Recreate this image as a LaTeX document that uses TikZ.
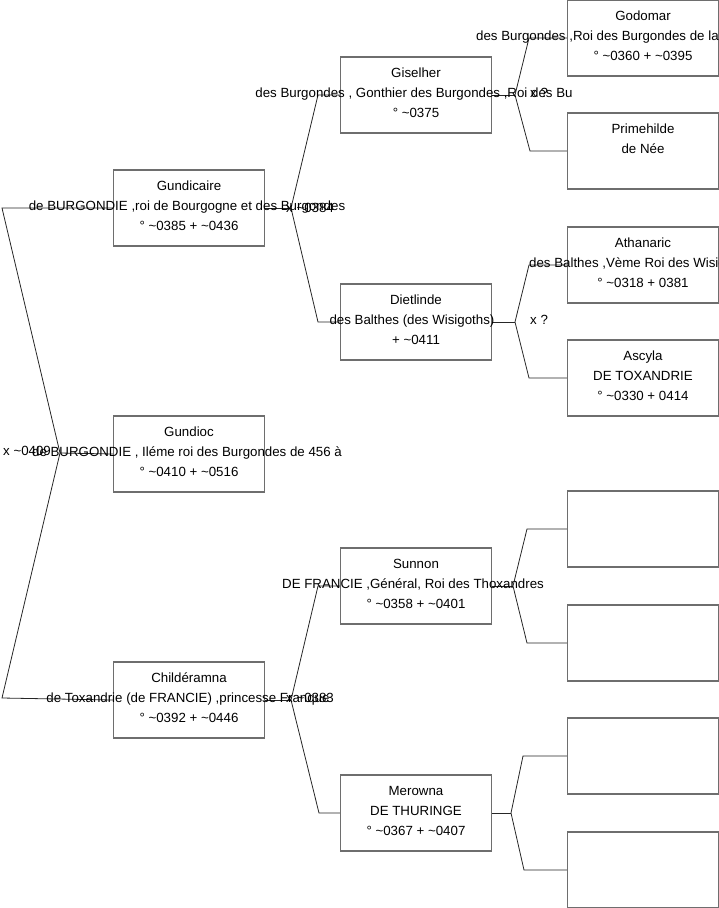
\documentclass[tikz,border=0pt]{standalone}
\usepackage{fontspec}
\setmainfont{Liberation Sans}
\begin{document}
\begin{tikzpicture}[x=1pt,y=-1pt,
  pbox/.style={draw=boxgray,line width=1.2pt,minimum width=151pt,minimum height=76pt,inner sep=0pt,fill=white},
  txt/.style={inner sep=0pt,anchor=base,font=\fontsize{13.3pt}{15pt}\selectfont,text=black},
  txtw/.style={inner sep=0pt,anchor=base west,font=\fontsize{13.3pt}{15pt}\selectfont,text=black},
  conn/.style={draw=black!85,line width=0.8pt}]
\definecolor{boxgray}{HTML}{6E6E6E}
\useasboundingbox (0,0) rectangle (719,908);
\clip (0,0) rectangle (719,908);
% boxes
\node[pbox] (gundicaire) at (189,208) {};
\node[pbox] (gundioc) at (189,454) {};
\node[pbox] (childeramna) at (189,700) {};
\node[pbox] (giselher) at (416,95) {};
\node[pbox] (dietlinde) at (416,322) {};
\node[pbox] (sunnon) at (416,586) {};
\node[pbox] (merowna) at (416,813) {};
\node[pbox] (godomar) at (643,38) {};
\node[pbox] (primehilde) at (643,151) {};
\node[pbox] (athanaric) at (643,265) {};
\node[pbox] (ascyla) at (643,378) {};
\node[pbox] (e1) at (643,529) {};
\node[pbox] (e2) at (643,643) {};
\node[pbox] (e3) at (643,756) {};
\node[pbox] (e4) at (643,870) {};
% connectors
\coordinate (a0) at (2,208); \coordinate (v0) at (60,453); \coordinate (b0) at (2,698);
\draw[conn] (gundicaire.west) -- (a0) -- (v0) -- (b0) -- (childeramna.west);
\draw[conn] (v0) -- (gundioc.west);
\coordinate (v1) at (291,208); \coordinate (a1) at (318,95); \coordinate (b1) at (318,322);
\draw[conn] (gundicaire.east) -- (v1);
\draw[conn] (giselher.west) -- (a1) -- (v1) -- (b1) -- (dietlinde.west);
\coordinate (v2) at (291,700); \coordinate (a2) at (318,586); \coordinate (b2) at (319,813);
\draw[conn] (childeramna.east) -- (v2);
\draw[conn] (sunnon.west) -- (a2) -- (v2) -- (b2) -- (merowna.west);
\coordinate (v3) at (515,95); \coordinate (a3) at (529,38); \coordinate (b3) at (530,151);
\draw[conn] (giselher.east) -- (v3);
\draw[conn] (godomar.west) -- (a3) -- (v3) -- (b3) -- (primehilde.west);
\coordinate (v4) at (515,322); \coordinate (a4) at (529,265); \coordinate (b4) at (529,378);
\draw[conn] (dietlinde.east) -- (v4);
\draw[conn] (athanaric.west) -- (a4) -- (v4) -- (b4) -- (ascyla.west);
\coordinate (v5) at (513,586); \coordinate (a5) at (527,529); \coordinate (b5) at (527,643);
\draw[conn] (sunnon.east) -- (v5);
\draw[conn] (e1.west) -- (a5) -- (v5) -- (b5) -- (e2.west);
\coordinate (v6) at (511,813); \coordinate (a6) at (523,756); \coordinate (b6) at (524,870);
\draw[conn] (merowna.east) -- (v6);
\draw[conn] (e3.west) -- (a6) -- (v6) -- (b6) -- (e4.west);
% texts
\node[txt] (t1a) at (189,190.5) {Gundicaire};
\node[txt] (t1b) at (187,210.5) {de BURGONDIE ,roi de Bourgogne et des Burgondes};
\node[txt] (t1c) at (189,230.5) {° \textasciitilde0385 + \textasciitilde0436};
\node[txt] (t2a) at (189,436.5) {Gundioc};
\node[txt] (t2b) at (187,456.5) {de BURGONDIE , Iléme roi des Burgondes de 456 à};
\node[txt] (t2c) at (189,476.5) {° \textasciitilde0410 + \textasciitilde0516};
\node[txt] (t3a) at (189,682.5) {Childéramna};
\node[txt] (t3b) at (188,702.5) {de Toxandrie (de FRANCIE) ,princesse Franque};
\node[txt] (t3c) at (189,722.5) {° \textasciitilde0392 + \textasciitilde0446};
\node[txt] (t4a) at (416,77.5) {Giselher};
\node[txt] (t4b) at (414,97.5) {des Burgondes , Gonthier des Burgondes ,Roi des Bu};
\node[txt] (t4c) at (416,117.5) {° \textasciitilde0375};
\node[txt] (t5a) at (416,304.5) {Dietlinde};
\node[txt] (t5b) at (412,324.5) {des Balthes (des Wisigoths)};
\node[txt] (t5c) at (416,344.5) {+ \textasciitilde0411};
\node[txt] (t6a) at (416,568.5) {Sunnon};
\node[txt] (t6b) at (413,588.5) {DE FRANCIE ,Général, Roi des Thoxandres};
\node[txt] (t6c) at (416,608.5) {° \textasciitilde0358 + \textasciitilde0401};
\node[txt] (t7a) at (416,795.5) {Merowna};
\node[txt] (t7b) at (416,815.5) {DE THURINGE};
\node[txt] (t7c) at (416,835.5) {° \textasciitilde0367 + \textasciitilde0407};
\node[txt] (t8a) at (643,20.5) {Godomar};
\node[txtw] (t8b) at (476,40.5) {des Burgondes ,Roi des Burgondes de la};
\node[txt] (t8c) at (643,60.5) {° \textasciitilde0360 + \textasciitilde0395};
\node[txt] (t9a) at (643,133.5) {Primehilde};
\node[txt] (t9b) at (643,153.5) {de Née};
\node[txt] (t10a) at (643,247.5) {Athanaric};
\node[txtw] (t10b) at (529,267.5) {des Balthes ,Vème Roi des Wisigoths};
\node[txt] (t10c) at (643,287.5) {° \textasciitilde0318 + 0381};
\node[txt] (t11a) at (643,360.5) {Ascyla};
\node[txt] (t11b) at (643,380.5) {DE TOXANDRIE};
\node[txt] (t11c) at (643,400.5) {° \textasciitilde0330 + 0414};
% marriage labels
\node[txtw] (m0) at (3,455.5) {x \textasciitilde0409};
\node[txtw] (m1) at (286,212.5) {x \textasciitilde0384};
\node[txtw] (m2) at (286,702.5) {x \textasciitilde0383};
\node[txtw] (m3) at (530,97.5) {x ?};
\node[txtw] (m4) at (530,324.5) {x ?};
\end{tikzpicture}
\end{document}
